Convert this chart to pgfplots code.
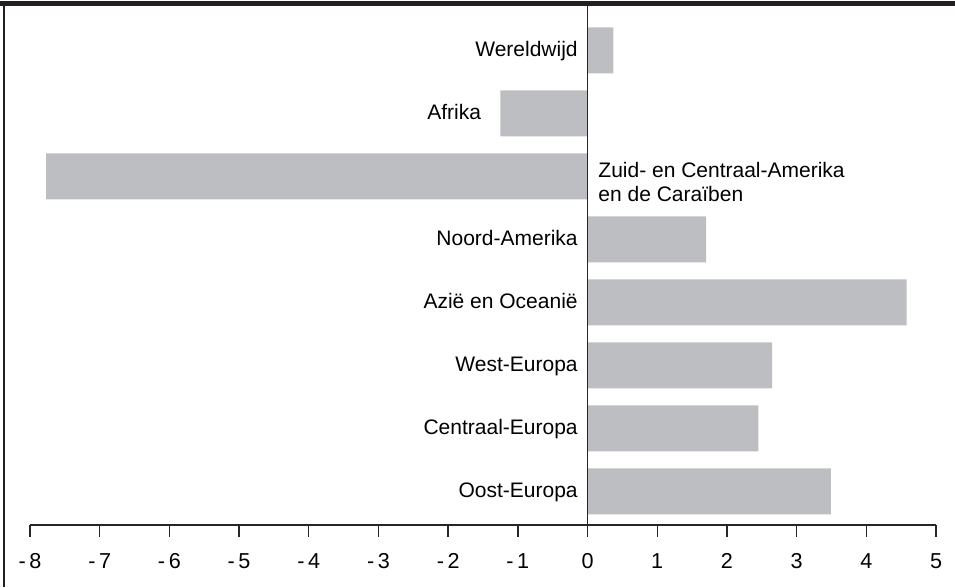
\documentclass[border=0pt]{standalone}
\usepackage{fontspec}
\setmainfont{Liberation Sans}
\usepackage{pgfplots}
\pgfplotsset{compat=1.18}
\definecolor{bargray}{HTML}{BDBEC2}
\definecolor{topbar}{HTML}{231F20}
\begin{document}
\fontsize{10.5pt}{12.5pt}\selectfont
\begin{tikzpicture}
\path (-15pt,-31pt) rectangle (462.5pt,262pt);
\fill[topbar] (-15pt,262pt) rectangle (462.5pt,259.6pt);
\draw[topbar,line width=1pt] (-13pt,262pt) -- (-13pt,-31pt);
\begin{axis}[
  at={(0pt,0pt)}, anchor=south west,
  scale only axis, width=453pt, height=259.5pt,
  xmin=-8, xmax=5, ymin=-0.532, ymax=7.706,
  axis x line=bottom, axis y line=none,
  axis line style={-, draw=black!85, line width=0.7pt},
  xtick={-8,-7,-6,-5,-4,-3,-2,-1,0,1,2,3,4,5},
  xticklabels={-\,8,-\,7,-\,6,-\,5,-\,4,-\,3,-\,2,-\,1,0,1,2,3,4,5},
  ytick=\empty,
  tick align=outside, major tick length=6pt,
  tick style={draw=black!85, line width=0.7pt},
  xticklabel style={font=\fontsize{10.8pt}{12.5pt}\selectfont, yshift=-4.5pt},
  clip=false,
]
\addplot[xbar, bar width=23pt, fill=bargray, draw=none] coordinates {
  (3.49,0) (2.45,1) (2.65,2) (4.58,3) (1.70,4) (-7.77,5) (-1.25,6) (0.37,7)
};
\addplot[black!85, line width=0.7pt] coordinates {(0,-0.532) (0,7.706)};
\node[anchor=mid east, inner sep=0, xshift=-4.75pt] at (axis cs:0,7) {Wereldwijd};
\node[anchor=mid east, inner sep=0, xshift=-9.5pt] at (axis cs:-1.25,6) {Afrika};
\node[anchor=base west, inner sep=0, xshift=5.25pt, yshift=-0.5pt] at (axis cs:0,5) {Zuid- en Centraal-Amerika};
\node[anchor=base west, inner sep=0, xshift=5.25pt, yshift=-12.5pt] at (axis cs:0,5) {en de Caraïben};
\node[anchor=mid east, inner sep=0, xshift=-4.75pt] at (axis cs:0,4) {Noord-Amerika};
\node[anchor=mid east, inner sep=0, xshift=-4.75pt] at (axis cs:0,3) {Azië en Oceanië};
\node[anchor=mid east, inner sep=0, xshift=-4.75pt] at (axis cs:0,2) {West-Europa};
\node[anchor=mid east, inner sep=0, xshift=-4.75pt] at (axis cs:0,1) {Centraal-Europa};
\node[anchor=mid east, inner sep=0, xshift=-4.75pt] at (axis cs:0,0) {Oost-Europa};
\end{axis}
\end{tikzpicture}
\end{document}
